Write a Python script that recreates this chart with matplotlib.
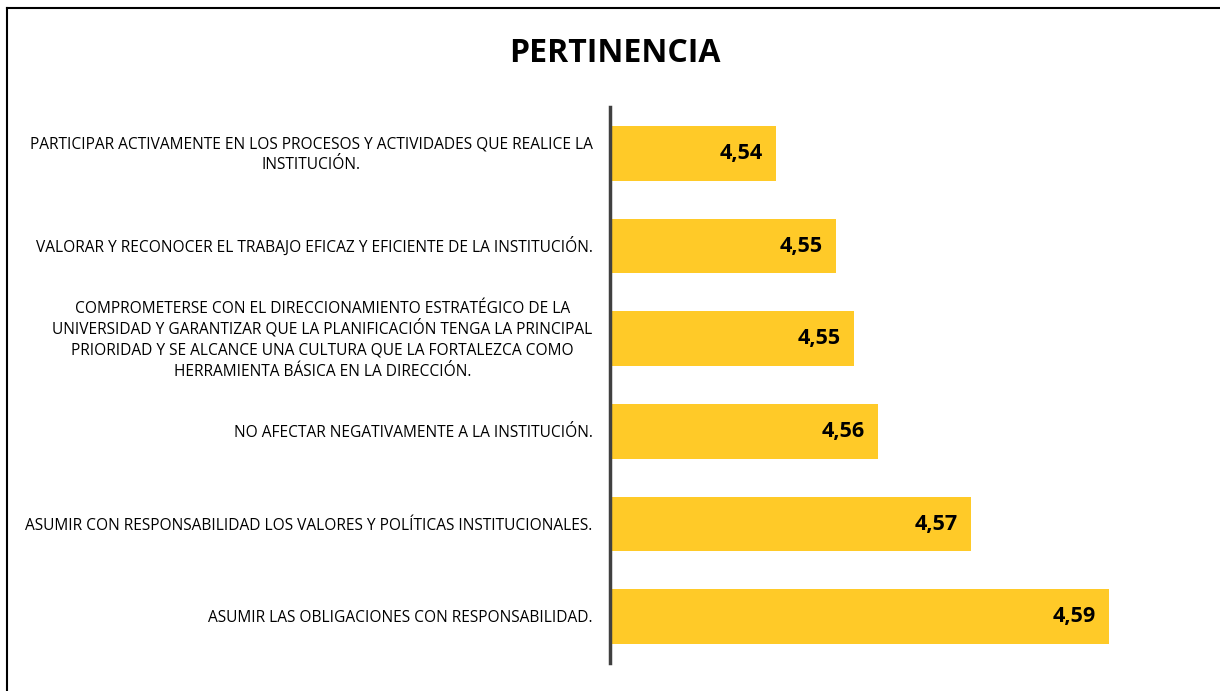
import matplotlib
matplotlib.use("Agg")
import matplotlib.pyplot as plt
from matplotlib.lines import Line2D

plt.rcParams['font.family'] = ['Open Sans', 'DejaVu Sans']

title = "PERTINENCIA"
categories = [
    "PARTICIPAR ACTIVAMENTE EN LOS PROCESOS Y ACTIVIDADES QUE REALICE LA\nINSTITUCIÓN.",
    "VALORAR Y RECONOCER EL TRABAJO EFICAZ Y EFICIENTE DE LA INSTITUCIÓN.",
    "COMPROMETERSE CON EL DIRECCIONAMIENTO ESTRATÉGICO DE LA\nUNIVERSIDAD Y GARANTIZAR QUE LA PLANIFICACIÓN TENGA LA PRINCIPAL\nPRIORIDAD Y SE ALCANCE UNA CULTURA QUE LA FORTALEZCA COMO\nHERRAMIENTA BÁSICA EN LA DIRECCIÓN.",
    "NO AFECTAR NEGATIVAMENTE A LA INSTITUCIÓN.",
    "ASUMIR CON RESPONSABILIDAD LOS VALORES Y POLÍTICAS INSTITUCIONALES.",
    "ASUMIR LAS OBLIGACIONES CON RESPONSABILIDAD.",
]
values = [4.539, 4.549, 4.552, 4.556, 4.5715, 4.5945]

bar_color = '#FFCA28'
x_min = 4.5113
x_max = 4.6089

fig = plt.figure(figsize=(12.2, 6.91), dpi=100)
ax = fig.add_axes([0.5, 0.0405, 0.48, 0.8046])

ypos = list(range(len(categories)))
ax.barh(ypos, values, left=0, height=0.59, color=bar_color, zorder=2)
ax.set_xlim(x_min, x_max)
ax.set_ylim(len(categories) - 0.5, -0.5)

for y, v in zip(ypos, values):
    ax.text(v - 0.0022, y, ("%.2f" % v).replace('.', ','), ha='right', va='center',
            fontsize=15.5, fontweight='bold', color='black', zorder=3)

# category labels: one text per line so the line spacing stays even
renderer = fig.canvas.get_renderer()
label_size = 11.2
line_step = 15.1   # points between lines
pad = 12.5         # points from the axis line
for y, cat in zip(ypos, categories):
    lines = cat.split('\n')
    n = len(lines)
    texts = []
    for i, line in enumerate(lines):
        off = ((n - 1) / 2 - i) * line_step - 0.36 * label_size
        t = ax.annotate(line, xy=(0, y), xycoords=('axes fraction', 'data'),
                        xytext=(0, off), textcoords='offset points',
                        ha='center', va='baseline', fontsize=label_size,
                        annotation_clip=False)
        texts.append(t)
    widths = [t.get_window_extent(renderer).width * 72 / fig.dpi for t in texts]
    half = max(widths) / 2
    for t in texts:
        x0, y0 = t.xyann
        t.xyann = (-pad - half, y0)

ax.set_yticks([])
ax.set_xticks([])
for s in ['top', 'right', 'bottom']:
    ax.spines[s].set_visible(False)
ax.spines['left'].set_color('#404040')
ax.spines['left'].set_linewidth(2.5)

fig.text(0.504, 0.922, title, ha='center', va='center', fontsize=23, fontweight='bold')

# border of the chart area (left and top only)
fig.add_artist(Line2D([7 / 1220, 7 / 1220], [0, 1 - 8 / 691], transform=fig.transFigure,
                      color='black', lw=1.5))
fig.add_artist(Line2D([7 / 1220, 1], [1 - 8 / 691, 1 - 8 / 691], transform=fig.transFigure,
                      color='black', lw=1.5))

fig.savefig('out.png', dpi=100)
